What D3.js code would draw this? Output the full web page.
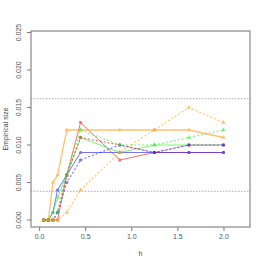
<!DOCTYPE html>
<html>
<head>
<meta charset="utf-8">
<script src="https://cdn.jsdelivr.net/npm/d3@7"></script>
<style>
  html, body { margin: 0; padding: 0; background: #fff; }
  svg { display: block; font-family: "Liberation Sans", Arial, sans-serif; }
</style>
</head>
<body>
<div class="chart"></div>
<script>
const hValues = [0.05, 0.1, 0.15, 0.2, 0.3, 0.45, 0.875, 1.25, 1.625, 2.0];

const redSolid    = [0, 0, 0, 0, 0.006, 0.013, 0.008, 0.009, 0.009, 0.009];
const redDashed   = [0, 0, 0, 0.001, 0.006, 0.011, 0.010, 0.009, 0.010, 0.010];
const blueSolid   = [0, 0, 0.001, 0.004, 0.006, 0.009, 0.009, 0.009, 0.009, 0.009];
const blueDashed  = [0, 0, 0, 0.001, 0.005, 0.008, 0.010, 0.009, 0.010, 0.010];
const greenSolid  = [0, 0, 0.001, 0.003, 0.006, 0.011, 0.009, 0.010, 0.010, 0.010];
const greenDashed = [0, 0, 0, 0.001, 0.006, 0.012, 0.010, 0.010, 0.011, 0.012];
const orangeSolid = [0, 0, 0.005, 0.006, 0.012, 0.012, 0.012, 0.012, 0.012, 0.011];
const orangeDashed = [0, 0, 0, 0, 0.001, 0.004, 0.009, 0.012, 0.015, 0.013];

const refLines = [0.00383, 0.01617];
const xTicks = [0, 0.5, 1, 1.5, 2];
const yTicks = [0, 0.005, 0.01, 0.015, 0.02, 0.025];

const series = [
  { values: redSolid,     color: '#ff2020', dash: null,  width: 1,   shape: d3.symbolSquare },
  { values: blueSolid,    color: '#2a2aff', dash: null,  width: 1,   shape: d3.symbolCircle },
  { values: greenSolid,   color: '#30f030', dash: null,  width: 1,   shape: d3.symbolTriangle },
  { values: orangeSolid,  color: '#ffa020', dash: null,  width: 1.3, shape: d3.symbolTriangle },
  { values: redDashed,    color: '#ff2020', dash: '2,2', width: 1.1, shape: d3.symbolSquare },
  { values: blueDashed,   color: '#2a2aff', dash: '2,2', width: 1.1, shape: d3.symbolCircle },
  { values: greenDashed,  color: '#30f030', dash: '2,2', width: 1.1, shape: d3.symbolTriangle },
  { values: orangeDashed, color: '#ffa020', dash: '2,2', width: 1.1, shape: d3.symbolTriangle }
];

const W = 266, H = 266;
const box = { left: 31, right: 250, top: 31, bottom: 227 };

const x = d3.scaleLinear().domain([-0.088, 2.288]).range([box.left, box.right]);
const y = d3.scaleLinear().domain([-0.000933, 0.0252]).range([box.bottom, box.top]);

const svg = d3.select('.chart').append('svg')
  .attr('width', W).attr('height', H);

// reference lines
svg.selectAll('.ref')
  .data(refLines).enter().append('line')
  .attr('x1', box.left).attr('x2', box.right)
  .attr('y1', d => y(d)).attr('y2', d => y(d))
  .attr('stroke', '#aaa').attr('stroke-width', 1)
  .attr('stroke-dasharray', '1.5,1.5');

const line = d3.line()
  .x((d, i) => x(hValues[i]))
  .y(d => y(d));

const groups = svg.selectAll('.series')
  .data(series).enter().append('g')
  .attr('opacity', 0.65);

groups.append('path')
  .attr('d', d => line(d.values))
  .attr('fill', 'none')
  .attr('stroke', d => d.color)
  .attr('stroke-width', d => d.width)
  .attr('stroke-dasharray', d => d.dash);

groups.each(function(s) {
  d3.select(this).selectAll('path.pt')
    .data(s.values).enter().append('path')
    .attr('class', 'pt')
    .attr('transform', (d, i) => `translate(${x(hValues[i])},${y(d)})`)
    .attr('d', d3.symbol().type(s.shape).size(8))
    .attr('fill', s.color);
});

// axes
const xAxis = svg.append('g')
  .attr('transform', `translate(0,${box.bottom})`)
  .call(d3.axisBottom(x).tickValues(xTicks).tickSize(4).tickFormat(d3.format('.1f')));

const yAxis = svg.append('g')
  .attr('transform', `translate(${box.left},0)`)
  .call(d3.axisLeft(y).tickValues(yTicks).tickSize(4).tickFormat(d3.format('.3f')));

[xAxis, yAxis].forEach(a => {
  a.select('.domain').remove();
  a.selectAll('line').attr('stroke', '#777');
  a.selectAll('text').attr('fill', '#555').style('font-size', '7px');
});
xAxis.selectAll('text').attr('dy', null).attr('y', 12);
yAxis.selectAll('text')
  .attr('x', null).attr('dy', null)
  .attr('text-anchor', 'middle')
  .attr('transform', d => `translate(-10,${y(d)}) rotate(-90)`)
  .attr('y', 0);
yAxis.selectAll('.tick').attr('transform', null);
yAxis.selectAll('.tick line').attr('y1', d => y(d)).attr('y2', d => y(d));

svg.append('rect')
  .attr('x', box.left).attr('y', box.top)
  .attr('width', box.right - box.left).attr('height', box.bottom - box.top)
  .attr('fill', 'none').attr('stroke', '#888').attr('stroke-width', 1.2);

svg.append('text')
  .attr('x', (box.left + box.right) / 2).attr('y', 256)
  .attr('text-anchor', 'middle')
  .attr('fill', '#444').style('font-size', '7px')
  .text('h');

svg.append('text')
  .attr('transform', `translate(8,${(box.top + box.bottom) / 2}) rotate(-90)`)
  .attr('text-anchor', 'middle')
  .attr('fill', '#444').style('font-size', '7px')
  .text('Empirical size');
</script>
</body>
</html>
